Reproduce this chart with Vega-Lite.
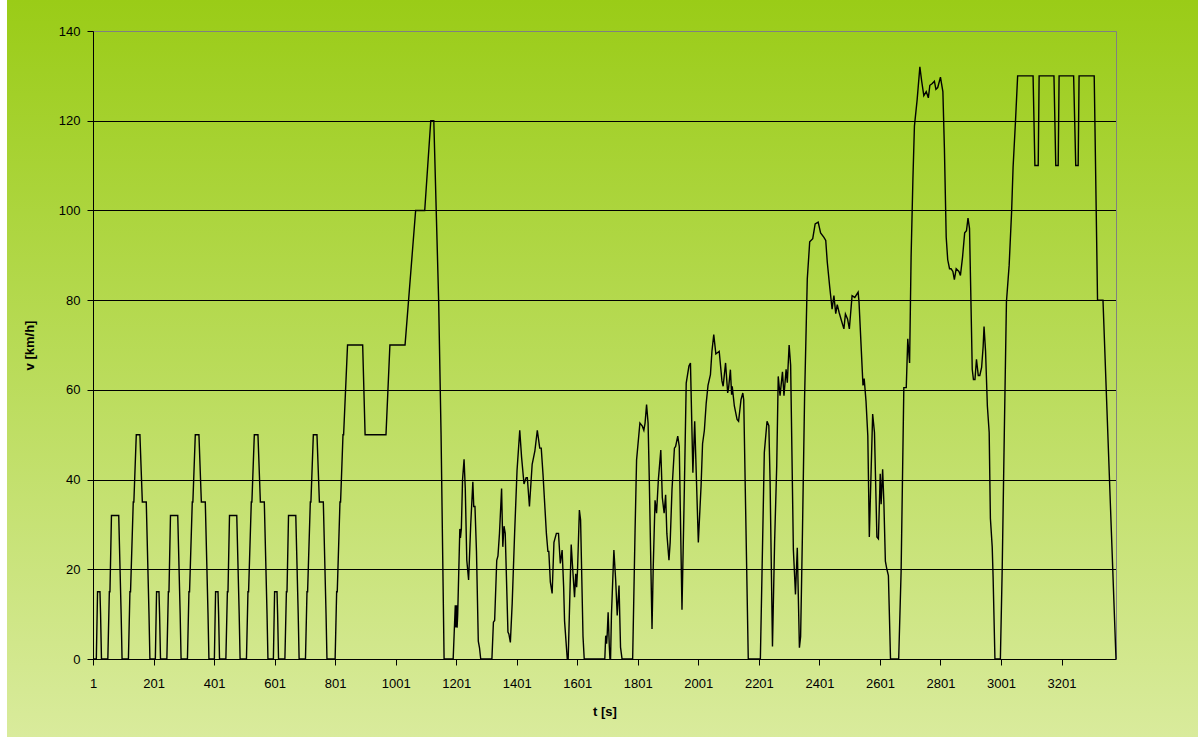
{
  "$schema": "https://vega.github.io/schema/vega-lite/v6.json",
  "width": 1191,
  "height": 737,
  "autosize": "none",
  "padding": {"left": 7, "top": 0, "right": 0, "bottom": 0},
  "background": "#ffffff",
  "config": {
    "view": {
      "fill": {"gradient": "linear", "x1": 0, "y1": 0, "x2": 0, "y2": 1, "stops": [{"offset": 0, "color": "#9ACC17"}, {"offset": 1, "color": "#D9EB9C"}]},
      "stroke": null
    },
    "font": "Liberation Sans"
  },
  "data": {
    "values": [
      {"t":1,"v":0},{"t":12,"v":0},{"t":16,"v":15},{"t":24,"v":15},{"t":26,"v":10},{"t":29,"v":0},{"t":50,"v":0},{"t":55,"v":15},{"t":57,"v":15},{"t":62,"v":32},{"t":86,"v":32},{"t":94,"v":10},{"t":97,"v":0},{"t":118,"v":0},{"t":123,"v":15},{"t":125,"v":15},{"t":134,"v":35},{"t":136,"v":35},{"t":144,"v":50},{"t":156,"v":50},{"t":164,"v":35},{"t":177,"v":35},{"t":186,"v":10},{"t":189,"v":0},
      {"t":207,"v":0},{"t":211,"v":15},{"t":219,"v":15},{"t":221,"v":10},{"t":224,"v":0},{"t":245,"v":0},{"t":250,"v":15},{"t":252,"v":15},{"t":257,"v":32},{"t":281,"v":32},{"t":289,"v":10},{"t":292,"v":0},{"t":313,"v":0},{"t":318,"v":15},{"t":320,"v":15},{"t":329,"v":35},{"t":331,"v":35},{"t":339,"v":50},{"t":351,"v":50},{"t":359,"v":35},{"t":372,"v":35},{"t":381,"v":10},{"t":384,"v":0},
      {"t":402,"v":0},{"t":406,"v":15},{"t":414,"v":15},{"t":416,"v":10},{"t":419,"v":0},{"t":440,"v":0},{"t":445,"v":15},{"t":447,"v":15},{"t":452,"v":32},{"t":476,"v":32},{"t":484,"v":10},{"t":487,"v":0},{"t":508,"v":0},{"t":513,"v":15},{"t":515,"v":15},{"t":524,"v":35},{"t":526,"v":35},{"t":534,"v":50},{"t":546,"v":50},{"t":554,"v":35},{"t":567,"v":35},{"t":576,"v":10},{"t":579,"v":0},
      {"t":597,"v":0},{"t":601,"v":15},{"t":609,"v":15},{"t":611,"v":10},{"t":614,"v":0},{"t":635,"v":0},{"t":640,"v":15},{"t":642,"v":15},{"t":647,"v":32},{"t":671,"v":32},{"t":679,"v":10},{"t":682,"v":0},{"t":703,"v":0},{"t":708,"v":15},{"t":710,"v":15},{"t":719,"v":35},{"t":721,"v":35},{"t":729,"v":50},{"t":741,"v":50},{"t":749,"v":35},{"t":762,"v":35},{"t":771,"v":10},{"t":774,"v":0},
      {"t":801,"v":0},{"t":806,"v":15},{"t":808,"v":15},{"t":817,"v":35},{"t":819,"v":35},{"t":827,"v":50},{"t":829,"v":50},{"t":842,"v":70},{"t":892,"v":70},{"t":900,"v":50},{"t":969,"v":50},{"t":982,"v":70},{"t":1032,"v":70},{"t":1067,"v":100},{"t":1097,"v":100},{"t":1117,"v":120},{"t":1127,"v":120},{"t":1143,"v":80},{"t":1151,"v":50},{"t":1161,"v":0},{"t":1191,"v":0},
      {"t":1198,"v":12},{"t":1200,"v":7},{"t":1202,"v":12},{"t":1204,"v":7},{"t":1206,"v":10},{"t":1213,"v":29},{"t":1215,"v":27},{"t":1218,"v":29},{"t":1222,"v":40},{"t":1227,"v":44.5},{"t":1231,"v":38},{"t":1236,"v":22},{"t":1242,"v":17.6},{"t":1249,"v":30},{"t":1256,"v":39.5},{"t":1259,"v":34},{"t":1263,"v":34},{"t":1268,"v":24},{"t":1274,"v":4},{"t":1278,"v":2.5},{"t":1282,"v":0},
      {"t":1319,"v":0},{"t":1324,"v":8.2},{"t":1328,"v":8.6},{"t":1335,"v":22},{"t":1339,"v":23},{"t":1344,"v":28},{"t":1351,"v":38},{"t":1355,"v":25},{"t":1359,"v":29.6},{"t":1363,"v":28},{"t":1372,"v":6},{"t":1375,"v":5.6},{"t":1380,"v":3.7},{"t":1386,"v":12.4},{"t":1394,"v":28},{"t":1402,"v":42},{"t":1411,"v":51},{"t":1417,"v":45},{"t":1425,"v":39},{"t":1432,"v":40.4},{"t":1436,"v":40.4},{"t":1443,"v":34},{"t":1452,"v":43.4},{"t":1461,"v":46.4},{"t":1469,"v":51},{"t":1477,"v":47},{"t":1482,"v":47},{"t":1488,"v":41},{"t":1499,"v":28},{"t":1504,"v":24},{"t":1507,"v":24},{"t":1512,"v":17.2},{"t":1518,"v":14.6},{"t":1524,"v":26},{"t":1532,"v":28},{"t":1539,"v":28},{"t":1545,"v":21.3},{"t":1551,"v":24.3},{"t":1556,"v":16},{"t":1559,"v":8.5},{"t":1568,"v":0},{"t":1571,"v":0},{"t":1581,"v":25.5},{"t":1586,"v":20},{"t":1592,"v":13.8},{"t":1596,"v":19},{"t":1599,"v":16},{"t":1602,"v":20},{"t":1608,"v":33.2},{"t":1612,"v":31},{"t":1620,"v":5},{"t":1624,"v":0},
      {"t":1692,"v":0},{"t":1695,"v":5.2},{"t":1698,"v":3.4},{"t":1700,"v":5.6},{"t":1703,"v":10.4},{"t":1707,"v":2.6},{"t":1709,"v":0},{"t":1711,"v":0},{"t":1714,"v":10},{"t":1722,"v":24.3},{"t":1728,"v":17.5},{"t":1733,"v":9.7},{"t":1739,"v":16.4},{"t":1744,"v":2.6},{"t":1749,"v":0},
      {"t":1784,"v":0},{"t":1792,"v":28.7},{"t":1797,"v":44.4},{"t":1808,"v":52.6},{"t":1816,"v":51.9},{"t":1821,"v":51},{"t":1825,"v":52.6},{"t":1830,"v":56.7},{"t":1835,"v":52.6},{"t":1839,"v":40},{"t":1848,"v":6.7},{"t":1852,"v":20.5},{"t":1858,"v":35.4},{"t":1863,"v":32.5},{"t":1869,"v":40},{"t":1877,"v":46.6},{"t":1882,"v":36},{"t":1888,"v":32.5},{"t":1893,"v":36.6},{"t":1897,"v":28},{"t":1904,"v":22},{"t":1908,"v":26},{"t":1914,"v":37.8},{"t":1922,"v":47},{"t":1926,"v":47.4},{"t":1933,"v":49.7},{"t":1938,"v":47.4},{"t":1947,"v":11},{"t":1955,"v":38.5},{"t":1961,"v":61.5},{"t":1970,"v":65.3},{"t":1975,"v":66},{"t":1983,"v":41.5},{"t":1989,"v":53},{"t":2001,"v":26},{"t":2010,"v":38.5},{"t":2015,"v":48},{"t":2021,"v":51},{"t":2027,"v":57},{"t":2033,"v":61},{"t":2041,"v":63.4},{"t":2046,"v":68.6},{"t":2052,"v":72.3},{"t":2059,"v":68},{"t":2070,"v":68.6},{"t":2079,"v":62},{"t":2083,"v":60.8},{"t":2091,"v":66},{"t":2098,"v":59.3},{"t":2101,"v":60.4},{"t":2107,"v":64.5},{"t":2111,"v":58.9},{"t":2113,"v":60.8},{"t":2120,"v":56.4},{"t":2129,"v":53.4},{"t":2134,"v":53},{"t":2142,"v":57.8},{"t":2148,"v":59.3},{"t":2151,"v":57.8},{"t":2166,"v":0},
      {"t":2206,"v":0},{"t":2219,"v":46},{"t":2228,"v":53},{"t":2234,"v":52},{"t":2238,"v":40},{"t":2246,"v":2.8},{"t":2253,"v":26},{"t":2260,"v":43},{"t":2265,"v":63},{"t":2271,"v":58.7},{"t":2279,"v":64},{"t":2284,"v":58.7},{"t":2291,"v":64.6},{"t":2295,"v":61.6},{"t":2301,"v":70},{"t":2306,"v":65.5},{"t":2315,"v":24.4},{"t":2322,"v":14.4},{"t":2328,"v":24.8},{"t":2335,"v":2.5},{"t":2339,"v":5},{"t":2345,"v":28},{"t":2352,"v":58},{"t":2361,"v":84.7},{"t":2369,"v":93},{"t":2379,"v":93.7},{"t":2387,"v":97},{"t":2397,"v":97.4},{"t":2405,"v":95},{"t":2416,"v":94},{"t":2422,"v":93.3},{"t":2427,"v":88.5},{"t":2435,"v":83},{"t":2443,"v":78},{"t":2449,"v":81},{"t":2455,"v":77},{"t":2460,"v":79},{"t":2466,"v":77.3},{"t":2474,"v":75.4},{"t":2482,"v":73.6},{"t":2487,"v":76.9},{"t":2494,"v":75.8},{"t":2500,"v":73.6},{"t":2509,"v":81},{"t":2518,"v":80.6},{"t":2529,"v":81.8},{"t":2532,"v":79.5},{"t":2545,"v":61},{"t":2549,"v":62.5},{"t":2555,"v":57.5},{"t":2561,"v":49.7},{"t":2566,"v":27.2},{"t":2577,"v":54.6},{"t":2583,"v":50.5},{"t":2591,"v":27.2},{"t":2596,"v":26.8},{"t":2602,"v":41.3},{"t":2605,"v":34.5},{"t":2610,"v":42.3},{"t":2614,"v":35},{"t":2619,"v":21.8},{"t":2624,"v":20},{"t":2629,"v":18.6},{"t":2636,"v":0},
      {"t":2663,"v":0},{"t":2671,"v":19.5},{"t":2680,"v":60.5},{"t":2688,"v":60.5},{"t":2693,"v":71.4},{"t":2699,"v":66},{"t":2704,"v":89.6},{"t":2710,"v":107},{"t":2715,"v":118.8},{"t":2724,"v":124.7},{"t":2733,"v":132},{"t":2739,"v":128.8},{"t":2746,"v":125.6},{"t":2754,"v":126.5},{"t":2761,"v":125.1},{"t":2766,"v":127.9},{"t":2774,"v":128.3},{"t":2781,"v":128.8},{"t":2786,"v":127},{"t":2792,"v":127.4},{"t":2801,"v":129.7},{"t":2809,"v":126.5},{"t":2814,"v":114},{"t":2820,"v":94},{"t":2825,"v":89},{"t":2831,"v":87},{"t":2836,"v":87},{"t":2842,"v":86.4},{"t":2847,"v":84.6},{"t":2853,"v":87},{"t":2862,"v":86.4},{"t":2867,"v":85.5},{"t":2874,"v":89.6},{"t":2881,"v":95},{"t":2887,"v":95.5},{"t":2892,"v":98.3},{"t":2897,"v":96},{"t":2901,"v":82.3},{"t":2906,"v":64.6},{"t":2910,"v":62.3},{"t":2915,"v":62.3},{"t":2920,"v":66.8},{"t":2926,"v":63.2},{"t":2931,"v":63.2},{"t":2937,"v":65},{"t":2942,"v":69.6},{"t":2945,"v":74.1},{"t":2950,"v":68.6},{"t":2956,"v":56.4},{"t":2962,"v":50.5},{"t":2966,"v":31.3},{"t":2972,"v":25},{"t":2975,"v":18.1},{"t":2981,"v":0},
      {"t":2999,"v":0},{"t":3005,"v":20},{"t":3012,"v":50.5},{"t":3019,"v":79.6},{"t":3028,"v":87.8},{"t":3036,"v":99.6},{"t":3041,"v":109.7},{"t":3049,"v":120},{"t":3056,"v":130},{"t":3107,"v":130},{"t":3113,"v":110},{"t":3124,"v":110},{"t":3127,"v":130},{"t":3176,"v":130},{"t":3182,"v":110},{"t":3190,"v":110},{"t":3193,"v":130},{"t":3241,"v":130},{"t":3248,"v":110},{"t":3256,"v":110},{"t":3259,"v":130},{"t":3309,"v":130},{"t":3320,"v":80},{"t":3338,"v":80},{"t":3381,"v":0}
    ]
  },
  "encoding": {
    "x": {
      "field": "t",
      "type": "quantitative",
      "scale": {"domain": [1, 3381], "range": [86, 1109], "nice": false, "zero": false},
      "axis": {
        "orient": "bottom",
        "offset": -78,
        "values": [1, 201, 401, 601, 801, 1001, 1201, 1401, 1601, 1801, 2001, 2201, 2401, 2601, 2801, 3001, 3201],
        "format": "d",
        "grid": false,
        "domainColor": "#000000",
        "tickColor": "#000000",
        "labelColor": "#000000",
        "tickSize": 6,
        "labelFontSize": 13,
        "labelPadding": 12,
        "labelFlush": false,
        "labelOverlap": false,
        "title": "t [s]",
        "titleFontSize": 13,
        "titleFontWeight": "bold",
        "titleColor": "#000000",
        "titlePadding": 15
      }
    }
  },
  "layer": [
    {
      "mark": {"type": "line", "color": "#000000", "strokeWidth": 1.4, "clip": false},
      "encoding": {
        "y": {
          "field": "v",
          "type": "quantitative",
          "scale": {"domain": [0, 140], "range": [659, 31], "nice": false, "zero": true},
          "axis": {
            "orient": "left",
            "offset": -86,
            "values": [0, 20, 40, 60, 80, 100, 120, 140],
            "grid": true,
            "gridColor": {"condition": {"test": "datum.value == 140", "value": "#808080"}, "value": "#000000"},
            "gridWidth": 1,
            "domainColor": "#000000",
            "tickColor": "#000000",
            "tickSize": 6,
            "labelFontSize": 13,
            "labelColor": "#000000",
            "labelPadding": 7,
            "labelFlush": false,
            "title": "v [km/h]",
            "titleFontSize": 13,
            "titleFontWeight": "bold",
            "titleColor": "#000000",
            "titlePadding": 22
          }
        }
      }
    },
    {
      "mark": {"type": "line", "color": "#000000", "strokeWidth": 1.4, "opacity": 0, "clip": false},
      "encoding": {
        "y": {
          "field": "v",
          "type": "quantitative",
          "axis": {
            "orient": "right",
            "offset": -82,
            "domainColor": "#808080",
            "ticks": false,
            "labels": false,
            "grid": false,
            "title": null
          }
        }
      }
    }
  ],
  "resolve": {"axis": {"y": "independent"}}
}
